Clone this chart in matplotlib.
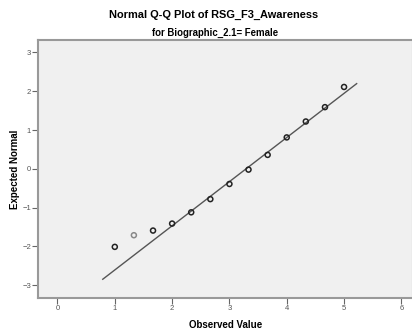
import matplotlib
matplotlib.use("Agg")
import matplotlib.pyplot as plt
import numpy as np

plt.rcParams['font.family'] = ['Liberation Sans', 'DejaVu Sans']

observed = [1.0, 1.333, 1.667, 2.0, 2.333, 2.667, 3.0, 3.333, 3.667, 4.0, 4.333, 4.667, 5.0]
expected = [-2.01, -1.71, -1.59, -1.41, -1.12, -0.78, -0.39, -0.02, 0.36, 0.81, 1.22, 1.59, 2.11]
point_colors = ['#222222', '#888888'] + ['#222222'] * 11
line_mean = 3.29
line_sd = 0.879
line_x = [0.79, 5.22]
xticks = [0, 1, 2, 3, 4, 5, 6]
yticks = [-3, -2, -1, 0, 1, 2, 3]

fig = plt.figure(figsize=(4.12, 3.35), dpi=100)
ax = fig.add_axes([38 / 412, (335 - 297.7) / 335, 1 - 38 / 412 + 0.002, (297.7 - 40) / 335])
ax.set_facecolor('#f0f0f0')

lx = np.array(line_x)
ax.plot(lx, (lx - line_mean) / line_sd, color='#555555', lw=1.0, zorder=2)
ax.scatter(observed, expected, s=13, facecolors='none', edgecolors=point_colors, linewidths=1.1, zorder=3)

ax.set_xlim(-0.34, 6.2)
ax.set_ylim(-3.32, 3.32)
ax.set_xticks(xticks)
ax.set_yticks(yticks)
ax.tick_params(direction='out', length=4, width=0.8, colors='#666666', labelsize=5.5, labelcolor='#555555', pad=1)
for s in ax.spines.values():
    s.set_color('#999999')
    s.set_linewidth(1.5)

ax.set_xlabel('Observed Value', fontsize=7, fontweight='bold', labelpad=6)
ax.set_ylabel('Expected Normal', fontsize=7, fontweight='bold', labelpad=2)

fig.text(214 / 412, 1 - 15 / 335, 'Normal Q-Q Plot of RSG_F3_Awareness', ha='center', va='center',
         fontsize=7.9, fontweight='bold')
fig.text(215 / 412, 1 - 33.3 / 335, 'for Biographic_2.1= Female', ha='center', va='center',
         fontsize=6.9, fontweight='bold')

fig.savefig('out.png', dpi=100, facecolor='white')
